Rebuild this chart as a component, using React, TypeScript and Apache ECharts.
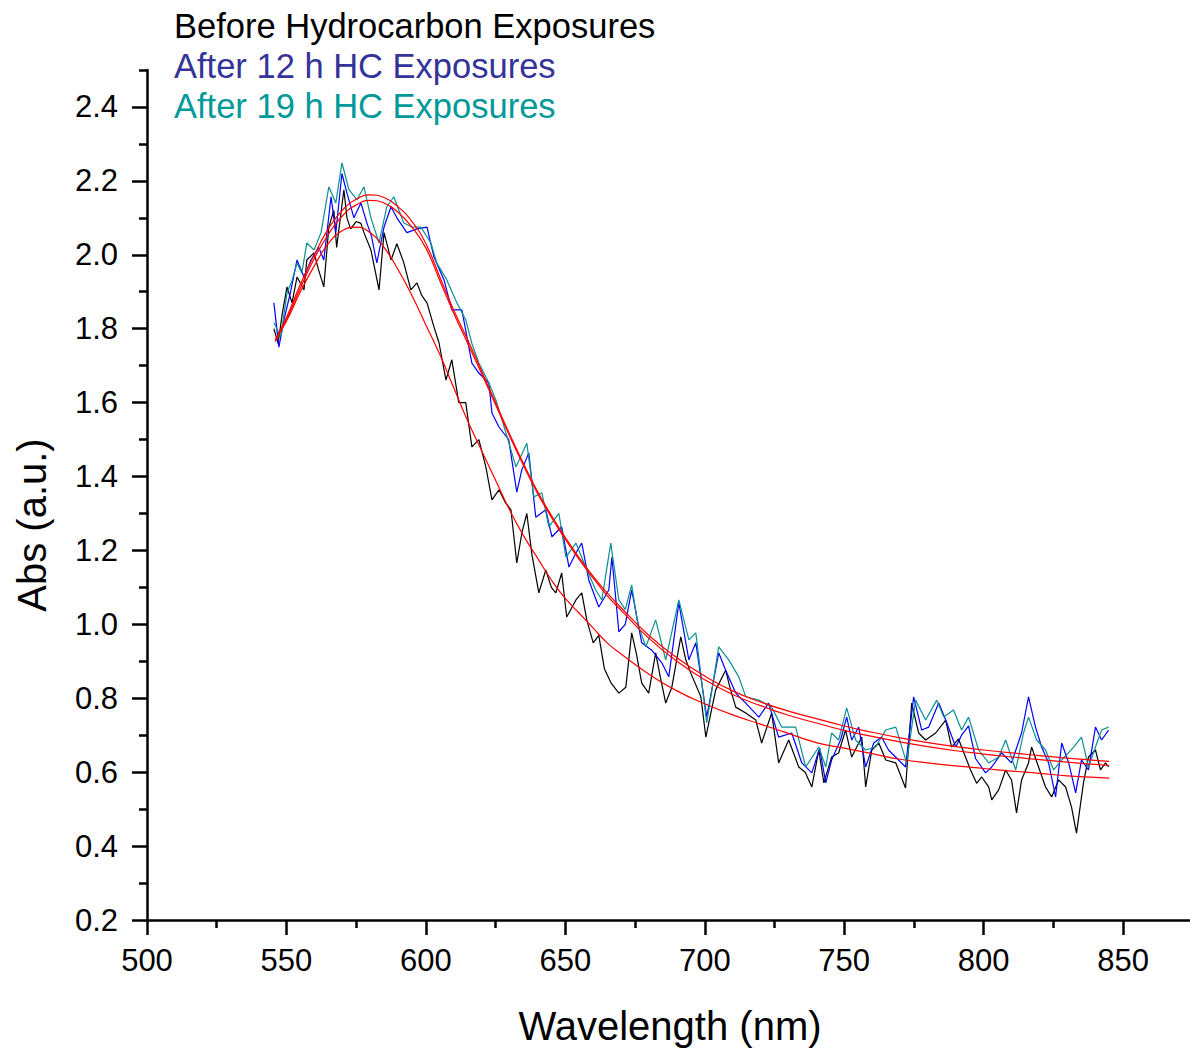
import React, { useEffect, useRef } from "react";
import * as echarts from "echarts";

// ---------- data ----------
const beforeNm = [545.5,547,548.5,550.2,552,553.8,556.3,557.3,559.9,561.5,563.4,565.2,567,568,570.6,571.7,573,575,576.7,577.8,580.3,583.2,585,587.5,589.6,592.1,594.6,596.8,598.5,600.4,602.9,604.7,607.2,609.3,611.8,614.3,616.5,619,621.5,623.7,626.2,628.5,630.5,632.6,634.5,636.2,638,640.5,643,645,646.6,648.7,650.5,653.8,655.9,657.7,660,662,664,666.5,669.2,671.7,673.8,675.5,677.4,679.9,682.4,684,686,688.2,691.4,693.2,695,698.6,700.4,703.9,707.5,709,711.1,714.7,718.3,720.4,724,726.5,730.1,733.7,736,738.4,740.9,742.7,745.5,748,750.5,752.7,756.3,757.7,759.9,762.4,764.9,768.5,772,774.2,776.7,779.2,782.8,786.4,788.5,791,793.5,795.3,797.5,799.3,801.8,802.9,805.4,807.9,810,811.8,813.6,816.1,817.2,819.7,822.2,824.4,826.9,829.4,831.5,833.3,835.8,837.6,840.1,841.9,843.7,844.8];
const beforeAbs = [1.80,1.76,1.84,1.913,1.87,1.94,1.905,1.986,2.005,1.96,1.913,2.075,2.12,2.02,2.176,2.10,2.07,2.09,2.085,2.06,2.013,1.905,2.06,1.986,2.03,1.978,1.905,1.924,1.89,1.87,1.805,1.762,1.661,1.716,1.60,1.60,1.48,1.50,1.426,1.337,1.364,1.33,1.31,1.166,1.25,1.30,1.19,1.085,1.147,1.10,1.085,1.139,1.02,1.066,1.085,1.012,0.95,0.97,0.88,0.84,0.814,0.83,0.977,0.92,0.841,0.814,0.923,0.86,0.787,0.83,0.966,0.904,0.868,0.804,0.695,0.822,0.876,0.83,0.776,0.76,0.741,0.679,0.76,0.625,0.687,0.614,0.60,0.56,0.66,0.571,0.641,0.652,0.714,0.641,0.695,0.56,0.66,0.679,0.633,0.625,0.557,0.787,0.706,0.687,0.706,0.741,0.668,0.69,0.641,0.606,0.57,0.587,0.56,0.525,0.552,0.606,0.579,0.49,0.579,0.625,0.668,0.614,0.56,0.533,0.579,0.56,0.506,0.435,0.571,0.641,0.66,0.606,0.625,0.614];

const after12Nm = [545.5,547.3,549.1,551.5,553.8,556.3,558.8,561.6,563.4,566,567.7,569.9,571.7,574.2,576.7,578.9,580.5,582.4,585,587.5,589.6,593.2,596.8,600.4,602.9,606.5,609.3,612.9,616.5,619,622.6,623.7,626.2,629.7,632.6,634.4,636.9,639.4,643,645.2,648.7,651.3,653.8,655.9,658.4,662,665.6,666.7,669.2,671.5,673.8,677.4,681,684.6,687.1,690.7,694.3,696.8,700.7,705,707.5,711.1,714.7,719.4,722.9,726.5,731.2,734.8,738.4,741.2,743.4,745.5,748.7,750.9,752.7,755.2,757.7,760.6,763.4,765.9,769.5,772,774.9,777.8,780.3,783.9,786.4,790,792.1,794.6,797.1,800.7,802.9,806.5,810,813.6,816.1,818.6,820.8,823.3,825.8,828,830.5,833,835.1,837.6,840.1,842.3,844.8];
const after12Abs = [1.87,1.75,1.824,1.90,1.986,1.94,1.986,2.02,1.986,2.157,2.06,2.22,2.167,2.10,2.14,2.085,2.05,1.978,2.075,2.13,2.10,2.06,2.07,2.075,1.994,1.932,1.851,1.851,1.707,1.68,1.653,1.572,1.534,1.50,1.358,1.418,1.464,1.29,1.31,1.237,1.264,1.155,1.193,1.22,1.12,1.047,1.093,1.182,0.98,1.00,1.093,0.95,0.93,0.896,0.858,1.058,0.904,0.95,0.749,0.923,0.876,0.814,0.787,0.749,0.787,0.695,0.706,0.625,0.598,0.665,0.571,0.633,0.687,0.749,0.687,0.722,0.614,0.679,0.695,0.66,0.633,0.614,0.804,0.714,0.722,0.787,0.741,0.668,0.70,0.725,0.637,0.598,0.614,0.652,0.625,0.706,0.804,0.722,0.668,0.625,0.533,0.679,0.625,0.544,0.633,0.606,0.722,0.687,0.714];

const after19Nm = [545.5,548,550.2,552,553.8,555.5,557.3,559.9,562.4,565.2,567.7,569.9,572.4,575.3,577.8,580.3,583.2,586,588.5,592.1,595,598.2,601.8,603.9,607.5,611.1,614.3,616.5,619,622.6,625.1,628.7,632.3,636.2,638.7,641.6,644.1,647.7,650.2,653.8,657.3,660.9,663.1,666.3,669.2,671.5,673.8,676,678.9,682.4,686,690.7,694.3,696.8,700.7,705,708.6,712.2,714.7,719.4,724,727.6,732.6,736.2,740.9,743.4,745.5,748,750.9,754.1,757.7,761.3,764.9,768.5,772.4,775.6,779.2,783.2,785.7,789.2,792.1,794.6,798.2,801.8,805.4,807.9,811.5,814.3,816.1,819,822.2,825.1,828,832.3,835.1,837.6,840.1,842.3,844.8];
const after19Abs = [1.816,1.778,1.897,1.93,1.978,1.95,2.032,2.013,2.06,2.184,2.14,2.249,2.176,2.149,2.184,2.10,2.032,2.13,2.157,2.086,2.075,2.075,2.032,1.978,1.932,1.87,1.824,1.76,1.707,1.653,1.607,1.518,1.426,1.49,1.345,1.356,1.264,1.30,1.182,1.22,1.155,1.093,1.066,1.22,1.066,1.04,1.107,1.00,0.939,1.012,0.904,1.066,0.958,0.977,0.733,0.939,0.904,0.858,0.804,0.795,0.776,0.722,0.722,0.614,0.668,0.614,0.706,0.687,0.774,0.687,0.66,0.668,0.714,0.722,0.625,0.795,0.741,0.795,0.749,0.768,0.714,0.749,0.66,0.625,0.641,0.687,0.606,0.706,0.749,0.687,0.66,0.606,0.633,0.668,0.695,0.614,0.668,0.714,0.722];

// fitted curves (red)
const fitNm = [546,550,555,560,565,570,575,580,585,590,595,600,605,610,615,620,625,630,635,640,645,650,655,660,665,670,680,690,700,710,720,730,740,750,760,770,780,790,800,810,820,830,840,845];
const fitBefore = [1.77,1.82,1.90,1.97,2.03,2.065,2.075,2.06,2.02,1.96,1.89,1.81,1.73,1.64,1.55,1.47,1.39,1.31,1.24,1.18,1.12,1.07,1.03,0.99,0.95,0.92,0.865,0.82,0.785,0.755,0.73,0.705,0.68,0.665,0.65,0.635,0.625,0.617,0.61,0.603,0.597,0.59,0.586,0.584];
const fit19 = [1.77,1.83,1.92,2.00,2.07,2.12,2.15,2.162,2.155,2.13,2.09,2.03,1.94,1.85,1.77,1.685,1.60,1.515,1.435,1.36,1.295,1.235,1.18,1.13,1.085,1.045,0.97,0.91,0.86,0.82,0.79,0.765,0.745,0.725,0.708,0.693,0.68,0.669,0.66,0.652,0.645,0.638,0.632,0.629];
const fit12 = [1.765,1.825,1.91,1.99,2.055,2.105,2.135,2.147,2.14,2.115,2.075,2.018,1.93,1.842,1.76,1.678,1.594,1.51,1.43,1.355,1.29,1.23,1.175,1.125,1.078,1.038,0.962,0.9,0.85,0.81,0.78,0.754,0.733,0.713,0.697,0.682,0.669,0.658,0.649,0.641,0.634,0.627,0.621,0.618];

// axis ticks
const xMajor = [500, 550, 600, 650, 700, 750, 800, 850];
const xMinor = [525, 575, 625, 675, 725, 775, 825];
const yMajor = [0.2, 0.4, 0.6, 0.8, 1.0, 1.2, 1.4, 1.6, 1.8, 2.0, 2.2, 2.4];
const yMinor = [0.3, 0.5, 0.7, 0.9, 1.1, 1.3, 1.5, 1.7, 1.9, 2.1, 2.3, 2.5];

const legendTexts = ["Before Hydrocarbon Exposures", "After 12 h HC Exposures", "After 19 h HC Exposures"];
const legendColors = ["#000000", "#333399", "#009999"];

const FONT = "'Liberation Sans', Arial, Helvetica, sans-serif";

const pairs = (xs: number[], ys: number[]) => xs.map((x, i) => [x, ys[i]]);

export default function App() {
  const ref = useRef<HTMLDivElement>(null);
  useEffect(() => {
    if (!ref.current) return;
    const chart = echarts.init(ref.current, undefined, { renderer: "svg" });
    const X_MIN = 500, X_MAX = 874, Y_MIN = 0.2, Y_MAX = 2.5;
    const axisLine = { show: true, lineStyle: { color: "#000", width: 2.5 } };
    const lineSeries = (name: string, data: number[][], color: string, width: number, z: number, smooth = false) => ({
      name, type: "line", data, showSymbol: false, symbol: "none", smooth,
      lineStyle: { color, width }, z, xAxisIndex: 0, yAxisIndex: 0,
    });
    chart.setOption({
      animation: false,
      grid: { left: 147, right: 0, top: 70, bottom: 130, containLabel: false },
      xAxis: [
        {
          type: "value", min: X_MIN, max: X_MAX, interval: 50, position: "bottom",
          axisLine, splitLine: { show: false },
          axisTick: { show: true, inside: false, length: 15, lineStyle: { color: "#000", width: 2.5 }, customValues: xMajor },
          axisLabel: { show: true, customValues: xMajor, margin: 25, fontSize: 31, color: "#000", fontFamily: FONT,
            formatter: (v: number) => String(Math.round(v)) },
        },
        {
          type: "value", min: X_MIN, max: X_MAX, interval: 25, position: "bottom",
          axisLine: { show: false }, splitLine: { show: false },
          axisTick: { show: true, inside: false, length: 8, lineStyle: { color: "#000", width: 2.5 }, customValues: xMinor },
          axisLabel: { show: false },
        },
      ],
      yAxis: [
        {
          type: "value", min: Y_MIN, max: Y_MAX, interval: 0.2, position: "left",
          axisLine, splitLine: { show: false },
          axisTick: { show: true, inside: false, length: 15, lineStyle: { color: "#000", width: 2.5 }, customValues: yMajor },
          axisLabel: { show: true, customValues: yMajor, margin: 29, fontSize: 31, color: "#000", fontFamily: FONT,
            formatter: (v: number) => v.toFixed(1) },
        },
        {
          type: "value", min: Y_MIN, max: Y_MAX, interval: 0.1, position: "left",
          axisLine: { show: false }, splitLine: { show: false },
          axisTick: { show: true, inside: false, length: 8, lineStyle: { color: "#000", width: 2.5 }, customValues: yMinor },
          axisLabel: { show: false },
        },
      ],
      series: [
        lineSeries("Before", pairs(beforeNm, beforeAbs), "#000000", 1.2, 2),
        lineSeries("After 12 h", pairs(after12Nm, after12Abs), "#0000ff", 1.2, 3),
        lineSeries("After 19 h", pairs(after19Nm, after19Abs), "#0a9090", 1.2, 4),
        lineSeries("Fit before", pairs(fitNm, fitBefore), "#ff0000", 1.2, 5, true),
        lineSeries("Fit 12 h", pairs(fitNm, fit12), "#ff0000", 1.2, 5, true),
        lineSeries("Fit 19 h", pairs(fitNm, fit19), "#ff0000", 1.2, 5, true),
      ],
      graphic: [
        ...legendTexts.map((t, i) => ({
          type: "text", left: 174, top: 8 + i * 40,
          style: { text: t, fill: legendColors[i], font: `34.5px ${FONT}` },
        })),
        {
          type: "text", x: 670, y: 1026,
          style: { text: "Wavelength (nm)", fill: "#000", font: `40px ${FONT}`, align: "center", verticalAlign: "middle" },
        },
        {
          type: "text", x: 32, y: 525, rotation: Math.PI / 2,
          style: { text: "Abs (a.u.)", fill: "#000", font: `40px ${FONT}`, align: "center", verticalAlign: "middle" },
        },
      ],
    });
    return () => chart.dispose();
  }, []);
  return (
    <div
      ref={ref}
      style={{ position: "absolute", left: 0, top: 0, width: 1190, height: 1050, background: "#fff" }}
    />
  );
}
